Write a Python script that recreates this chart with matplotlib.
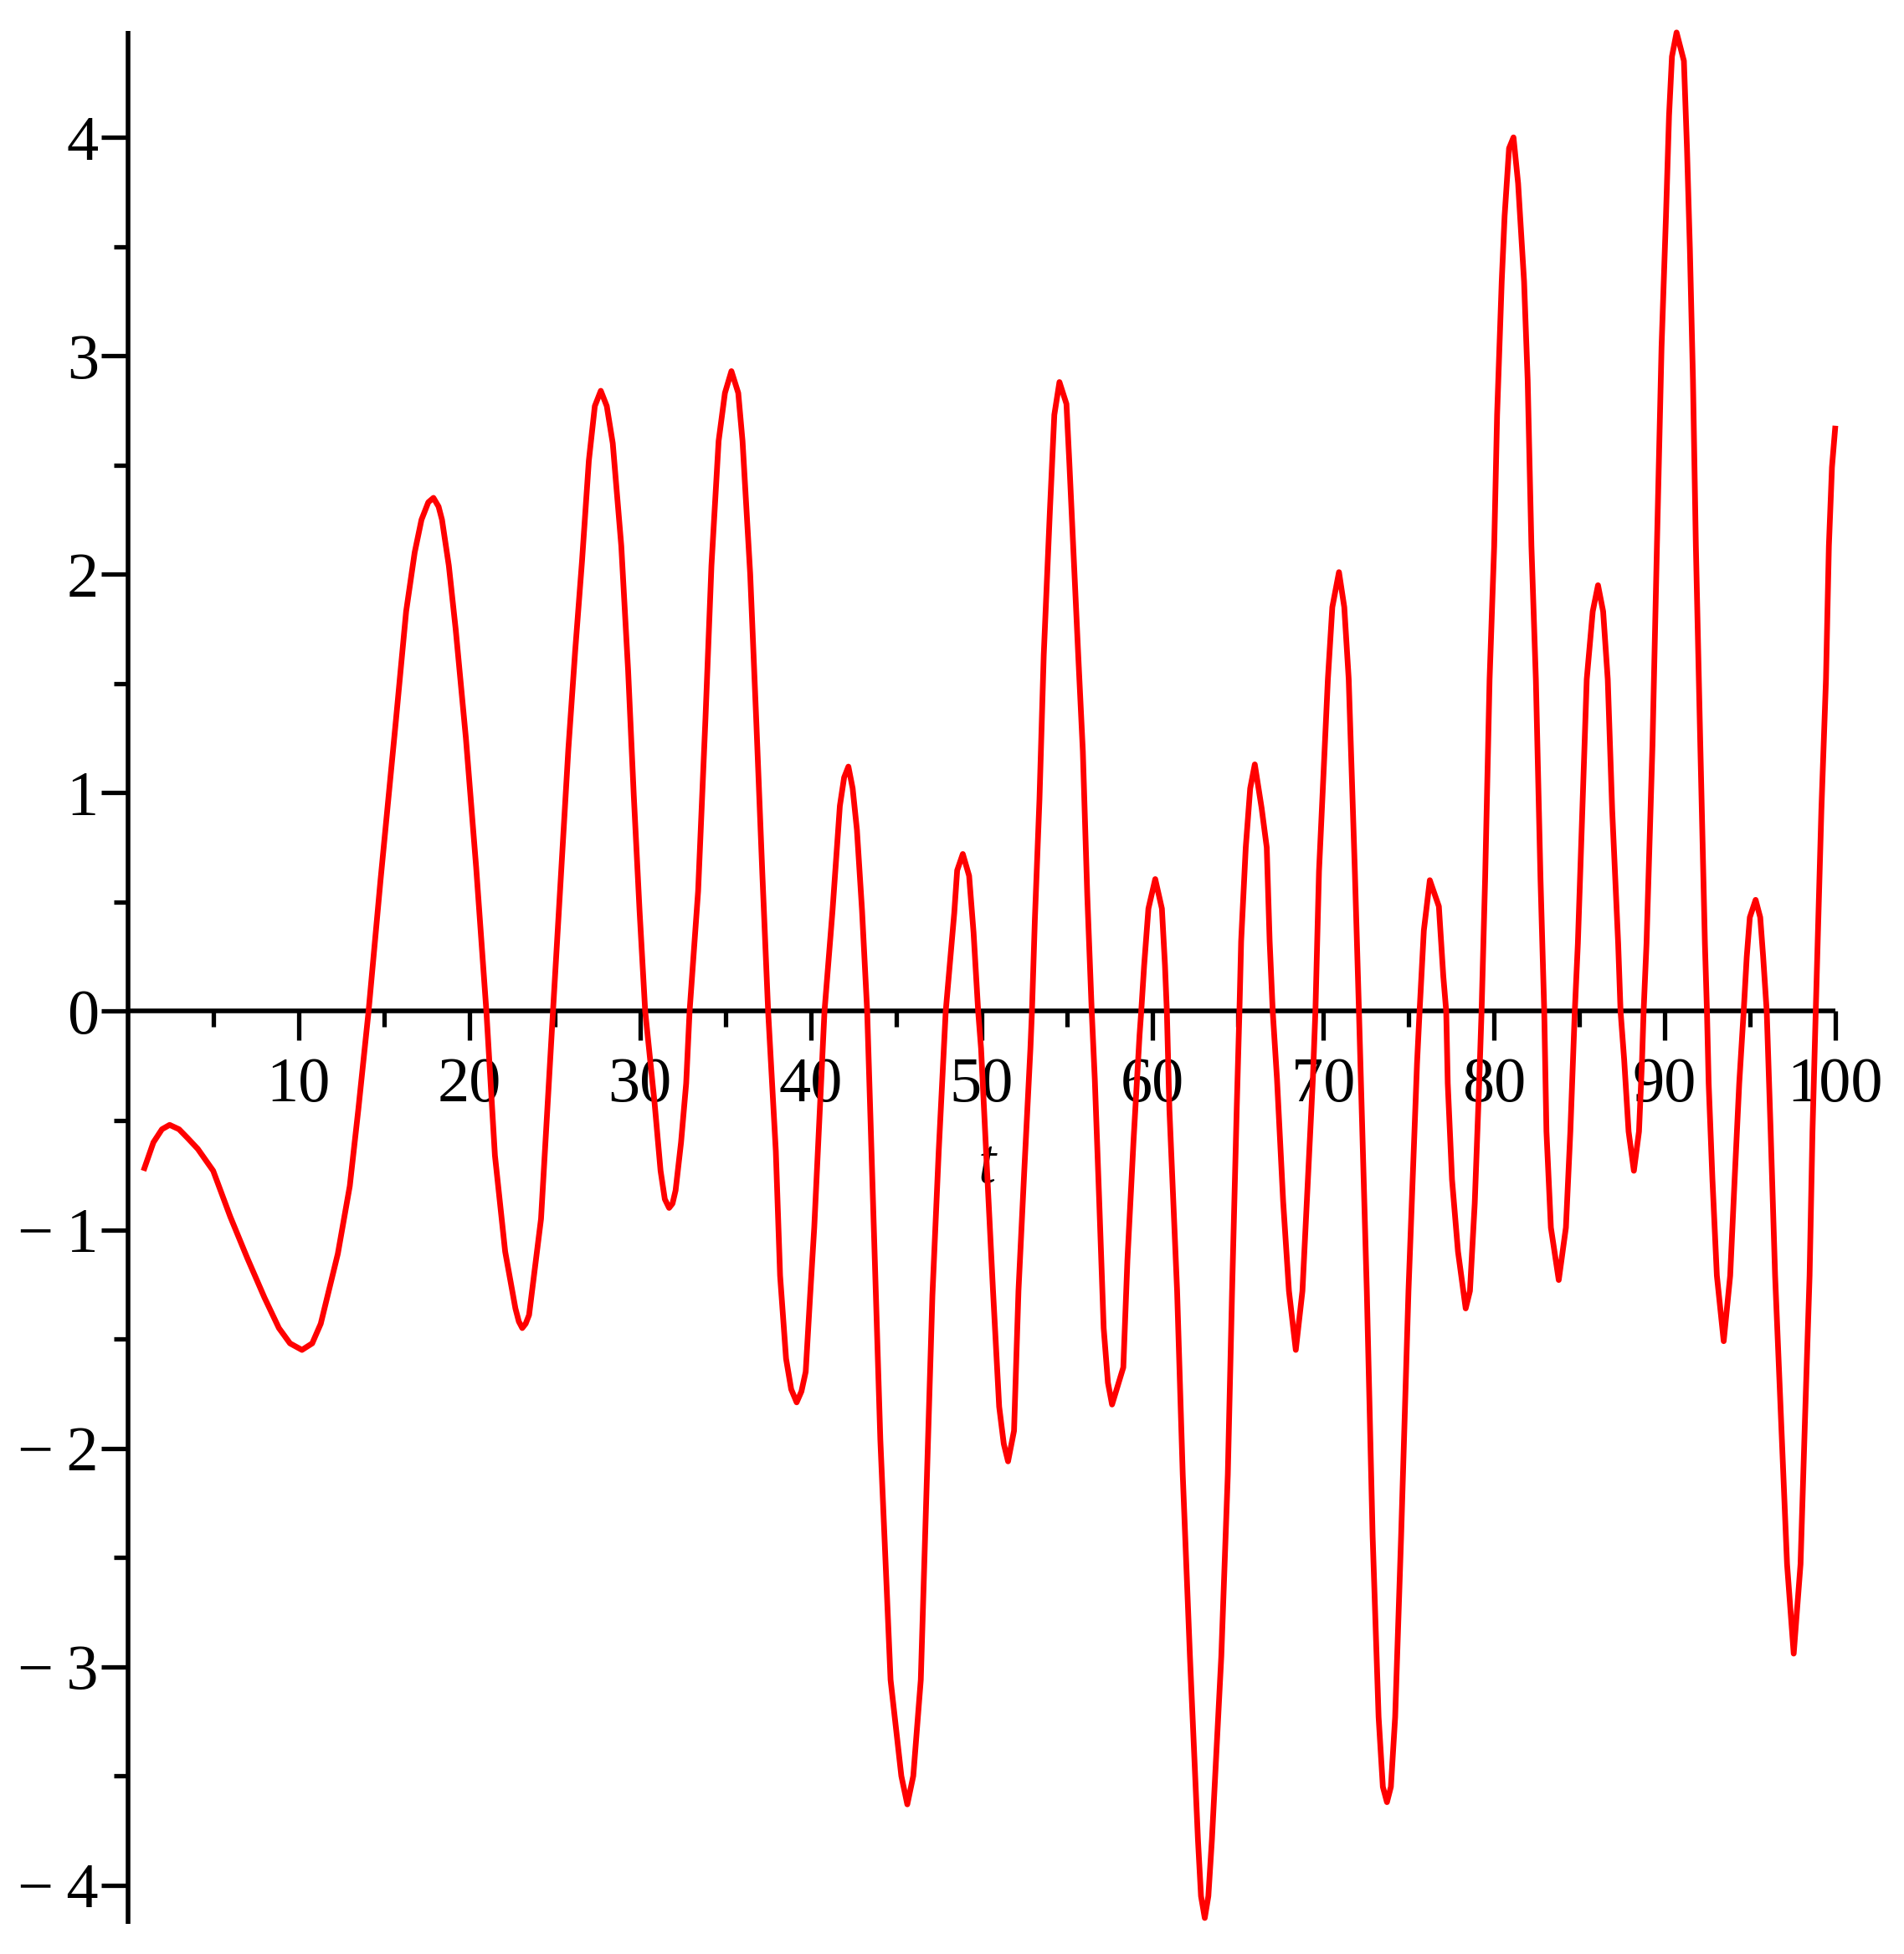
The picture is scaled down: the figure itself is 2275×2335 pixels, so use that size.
import matplotlib
matplotlib.use("Agg")
import matplotlib.pyplot as plt
from matplotlib.ticker import FixedLocator, FixedFormatter

# ---- data ----
t_values = [0.92, 1.5, 2.0, 2.45, 3.0, 3.5, 4.1, 5.0, 6.0, 7.0, 8.0, 8.85, 9.5, 10.2, 10.8, 11.3, 12.3, 13.0,
            13.5, 14.1, 14.8, 15.7, 16.3, 16.8, 17.2, 17.6, 17.9, 18.2, 18.4, 18.8, 19.2, 19.8, 20.4, 21.0,
            21.5, 22.1, 22.7, 22.9, 23.1, 23.3, 23.5, 24.2, 24.9, 25.35, 25.8, 26.2, 26.6, 27.0, 27.35, 27.7,
            28.05, 28.4, 28.9, 29.3, 29.63, 29.97, 30.3, 30.85, 31.2, 31.45, 31.7, 31.9, 32.08, 32.4, 32.7,
            32.9, 33.4, 33.83, 34.18, 34.6, 34.97, 35.35, 35.75, 36.0, 36.45, 36.8, 37.16, 37.5, 37.95, 38.2,
            38.55, 38.85, 39.17, 39.45, 39.7, 39.96, 40.2, 40.49, 40.8, 41.27, 41.7, 41.95, 42.2, 42.45, 42.7,
            43.0, 43.3, 43.64, 44.07, 44.67, 45.3, 45.65, 46.0, 46.44, 46.78, 47.12, 47.49, 47.9, 48.4, 48.57,
            48.9, 49.27, 49.53, 49.8, 49.97, 50.32, 50.67, 51.03, 51.3, 51.55, 51.9, 52.16, 52.5, 52.86, 52.95,
            53.12, 53.39, 53.64, 54.0, 54.26, 54.56, 54.97, 55.14, 55.4, 55.66, 55.93, 56.19, 56.45, 56.63,
            56.89, 57.15, 57.4, 57.64, 58.3, 58.54, 58.9, 59.25, 59.35, 59.52, 59.77, 60.17, 60.56, 60.74,
            60.85, 61.0, 61.45, 61.78, 62.2, 62.67, 62.85, 63.07, 63.28, 63.49, 64.04, 64.42, 64.67, 64.94,
            65.1, 65.2, 65.47, 65.73, 66.0, 66.4, 66.7, 66.87, 67.05, 67.3, 67.66, 68.0, 68.4, 68.79, 69.05,
            69.4, 69.55, 69.76, 70.02, 70.28, 70.54, 70.93, 71.24, 71.5, 71.68, 71.86, 72.1, 72.56, 72.9,
            73.25, 73.5, 73.74, 73.97, 74.22, 74.57, 75.0, 75.5, 75.65, 75.9, 76.25, 76.78, 77.04, 77.21,
            77.3, 77.55, 77.9, 78.35, 78.6, 78.88, 79.14, 79.28, 79.49, 79.75, 80.02, 80.19, 80.46, 80.63,
            80.89, 81.15, 81.42, 81.77, 81.98, 82.2, 82.46, 82.73, 82.95, 83.08, 83.34, 83.8, 84.22, 84.48,
            84.74, 84.92, 85.18, 85.44, 85.79, 86.1, 86.4, 86.67, 86.93, 87.28, 87.42, 87.63, 87.89, 88.2,
            88.5, 88.68, 88.77, 88.94, 89.29, 89.55, 89.82, 90.08, 90.26, 90.43, 90.7, 91.13, 91.31, 91.48,
            91.66, 91.83, 92.09, 92.36, 92.48, 92.58, 92.8, 93.06, 93.46, 93.84, 94.1, 94.37, 94.63, 94.81,
            94.99, 95.33, 95.6, 95.77, 95.98, 96.21, 96.47, 96.82, 97.17, 97.56, 97.96, 98.22, 98.49, 98.66,
            98.85, 99.18, 99.45, 99.62, 99.8, 100.0]
y_values = [-0.73, -0.60, -0.54, -0.52, -0.54, -0.58, -0.63, -0.73, -0.94, -1.13, -1.31, -1.45, -1.52,
            -1.55, -1.52, -1.43, -1.11, -0.80, -0.45, 0.0, 0.60, 1.33, 1.83, 2.10, 2.25, 2.33, 2.35, 2.31,
            2.25, 2.04, 1.75, 1.25, 0.66, 0.0, -0.66, -1.10, -1.36, -1.42, -1.45, -1.43, -1.39, -0.95, 0.0,
            0.6, 1.2, 1.65, 2.06, 2.52, 2.77, 2.84, 2.77, 2.6, 2.13, 1.56, 0.99, 0.46, 0.0, -0.42, -0.73,
            -0.86, -0.90, -0.88, -0.82, -0.60, -0.33, 0.0, 0.55, 1.34, 2.04, 2.61, 2.83, 2.93, 2.83, 2.61,
            2.0, 1.34, 0.63, 0.0, -0.64, -1.21, -1.59, -1.73, -1.79, -1.74, -1.65, -1.30, -0.99, -0.51, 0.0,
            0.46, 0.94, 1.07, 1.12, 1.02, 0.83, 0.46, 0.0, -0.86, -1.96, -3.06, -3.50, -3.63, -3.50, -3.06,
            -2.18, -1.30, -0.64, 0.0, 0.45, 0.645, 0.72, 0.62, 0.36, 0.0, -0.17, -0.73, -1.28, -1.81, -1.98,
            -2.06, -1.92, -1.28, -0.73, -0.17, 0.0, 0.42, 0.97, 1.63, 2.29, 2.73, 2.88, 2.78, 2.51, 2.07,
            1.63, 1.19, 0.53, 0.0, -0.31, -0.87, -1.45, -1.70, -1.80, -1.63, -1.14, -0.59, -0.11, 0.0, 0.21,
            0.47, 0.605, 0.47, 0.21, 0.0, -0.45, -1.28, -2.12, -2.95, -3.79, -4.05, -4.15, -4.05, -3.79,
            -2.95, -2.12, -1.28, -0.45, 0.0, 0.32, 0.75, 1.02, 1.13, 0.93, 0.75, 0.32, 0.0, -0.31, -0.87,
            -1.28, -1.55, -1.28, -0.87, -0.31, 0.0, 0.64, 1.08, 1.52, 1.85, 2.01, 1.85, 1.52, 1.08, 0.64,
            0.0, -1.28, -2.40, -3.23, -3.55, -3.62, -3.55, -3.23, -2.40, -1.28, -0.24, 0.0, 0.37, 0.60,
            0.48, 0.16, 0.0, -0.33, -0.77, -1.10, -1.36, -1.28, -0.88, -0.33, 0.0, 0.61, 1.52, 2.13, 2.73,
            3.34, 3.64, 3.95, 4.0, 3.79, 3.34, 2.89, 2.13, 1.52, 0.61, 0.0, -0.55, -0.99, -1.23, -0.99, -0.55,
            0.0, 0.31, 0.92, 1.52, 1.83, 1.95, 1.83, 1.52, 0.92, 0.31, 0.0, -0.22, -0.55, -0.73, -0.55,
            -0.22, 0.0, 0.31, 1.22, 2.13, 3.04, 3.64, 4.10, 4.37, 4.48, 4.35, 3.95, 3.49, 2.89, 2.13, 1.22,
            0.31, 0.0, -0.33, -0.77, -1.21, -1.51, -1.21, -0.77, -0.33, 0.0, 0.25, 0.43, 0.51, 0.43, 0.25,
            0.0, -0.55, -1.21, -1.87, -2.53, -2.94, -2.53, -1.87, -1.21, -0.55, 0.0, 0.92, 1.52, 2.13, 2.49,
            2.68]

x_major = [10, 20, 30, 40, 50, 60, 70, 80, 90, 100]
x_minor = [5, 15, 25, 35, 45, 55, 65, 75, 85, 95]
y_major = [-4, -3, -2, -1, 0, 1, 2, 3, 4]
y_minor = [-3.5, -2.5, -1.5, -0.5, 0.5, 1.5, 2.5, 3.5]
x_labels = [str(v) for v in x_major]
y_labels = [("\u2212\u2009" + str(-v)) if v < 0 else str(v) for v in y_major]
x_name = "t"

# ---- figure ----
W, H = 2275, 2335
fig = plt.figure(figsize=(W / 100, H / 100), dpi=100)
ax = fig.add_axes([152.7 / W, (H - 2299) / H, 2040.3 / W, 2262 / H])
ax.set_xlim(0, 100)
ax.set_ylim(-4.177, 4.487)

font = ['Liberation Serif', 'DejaVu Serif']
fs = 55

ax.plot(t_values, y_values, color='#ff0000', linewidth=4.9, zorder=3, clip_on=False,
        solid_joinstyle='round', solid_capstyle='butt')

for s in ('top', 'right'):
    ax.spines[s].set_visible(False)
ax.spines['left'].set_position(('data', 0))
ax.spines['bottom'].set_position(('data', 0))
for s in ('left', 'bottom'):
    ax.spines[s].set_linewidth(4.0)
    ax.spines[s].set_capstyle('butt')

ax.xaxis.set_major_locator(FixedLocator(x_major))
ax.xaxis.set_minor_locator(FixedLocator(x_minor))
ax.xaxis.set_major_formatter(FixedFormatter(x_labels))
ax.yaxis.set_major_locator(FixedLocator(y_major))
ax.yaxis.set_minor_locator(FixedLocator(y_minor))
ax.yaxis.set_major_formatter(FixedFormatter(y_labels))

ax.tick_params(axis='x', which='major', direction='out', length=25, width=3.8, pad=14)
ax.tick_params(axis='x', which='minor', direction='out', length=13.5, width=3.8)
ax.tick_params(axis='y', which='major', direction='out', length=23, width=3.8, pad=2)
ax.tick_params(axis='y', which='minor', direction='out', length=12, width=3.8)

for lab in ax.get_xticklabels() + ax.get_yticklabels():
    lab.set_fontfamily(font)
    lab.set_fontsize(fs)

ax.text(50.3, -0.714, x_name, ha='center', va='center', fontsize=fs, style='italic',
        family=font, zorder=2)

fig.savefig("out.png", dpi=100, facecolor='white')
